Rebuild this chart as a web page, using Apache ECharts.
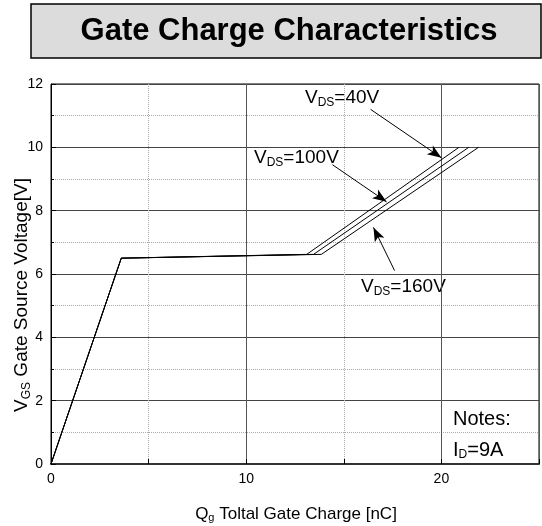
<!DOCTYPE html>
<html><head><meta charset="utf-8">
<script src="https://cdn.jsdelivr.net/npm/echarts@6/dist/echarts.min.js"></script>
<style>html,body{margin:0;padding:0;background:#fff}#c{width:542px;height:526px}</style>
</head><body><div id="c"></div>
<script>
// Data
const seriesNames = ['VDS=40V', 'VDS=100V', 'VDS=160V'];
const qg40  = [0, 3.6, 13.1, 20.9];
const vgs40 = [0, 6.5, 6.62, 10];
const qg100  = [0, 3.6, 13.45, 21.4];
const vgs100 = [0, 6.5, 6.62, 10];
const qg160  = [0, 3.6, 13.85, 21.9];
const vgs160 = [0, 6.5, 6.62, 10];
const xTicks = [0, 10, 20];
const yTicks = [0, 2, 4, 6, 8, 10, 12];

const pairs = (xs, ys) => xs.map((x, i) => [x, ys[i]]);
const F = 'Arial, "Liberation Sans", sans-serif';
const sub = (main, s, rest, fs) => ({
  text: '{a|' + main + '}{b|' + s + '}{a|' + rest + '}',
  rich: {
    a: {fontSize: fs, fontFamily: F, fill: '#000', color: '#000'},
    b: {fontSize: Math.round(fs * 0.62), fontFamily: F, fill: '#000', color: '#000', padding: [Math.round(fs * 0.45), 0, 0, 0]}
  }
});

const chart = echarts.init(document.getElementById('c'));
const lineStyle = {color: '#000', width: 1};
const arrows = [
  [[16.37, 11.2], [20.0, 9.67]],
  [[14.42, 9.45], [17.19, 8.28]],
  [[17.6, 6.11], [16.52, 7.47]]
];
const t40 = sub('V', 'DS', '=40V', 19);
const t100 = sub('V', 'DS', '=100V', 19);
const t160 = sub('V', 'DS', '=160V', 19);
const tID = sub('I', 'D', '=9A', 20);
const yName = sub('V', 'GS', ' Gate Source Voltage[V]', 19);
const xName = sub('Q', 'g', ' Toltal Gate Charge [nC]', 17);

chart.setOption({
  animation: false,
  backgroundColor: '#fff',
  grid: {left: 51, right: 2, top: 84, bottom: 62, show: true, borderColor: '#000', borderWidth: 1},
  xAxis: [{
    type: 'value', min: 0, max: 25, interval: 5,
    axisLine: {lineStyle: {color: '#333', width: 2}},
    axisTick: {inside: true, length: 5, lineStyle: {color: '#000'}},
    axisLabel: {fontSize: 14, fontFamily: F, color: '#000', margin: 8,
      formatter: v => xTicks.indexOf(v) >= 0 ? String(v) : ''},
    splitLine: {show: true, lineStyle: {color: '#aaa', type: [1, 1], width: 1}}
  }, {
    type: 'value', min: 0, max: 25, interval: 10, position: 'bottom',
    axisLine: {show: false}, axisTick: {show: false}, axisLabel: {show: false},
    splitLine: {show: true, lineStyle: {color: '#555', width: 1}}
  }],
  yAxis: {
    type: 'value', min: 0, max: 12, interval: 2,
    axisLine: {show: true, lineStyle: {color: '#000', width: 1}},
    axisTick: {inside: true, length: 5, lineStyle: {color: '#000'}},
    minorTick: {show: true, splitNumber: 2, length: 3, lineStyle: {color: '#000'}},
    axisLabel: {fontSize: 14, fontFamily: F, color: '#000', margin: 8,
      formatter: v => yTicks.indexOf(v) >= 0 ? String(v) : ''},
    splitLine: {show: true, lineStyle: {color: '#444', width: 1}},
    minorSplitLine: {show: true, lineStyle: {color: '#aaa', type: [1, 1], width: 1}}
  },
  series: [
    {name: seriesNames[0], type: 'line', data: pairs(qg40, vgs40), symbol: 'none', lineStyle, z: 5,
      markLine: {silent: true, symbol: ['none', 'arrow'], symbolSize: [8, 14], label: {show: false},
        lineStyle: {color: '#000', width: 1, type: 'solid'},
        data: arrows.map(a => [{coord: a[0]}, {coord: a[1]}])}},
    {name: seriesNames[1], type: 'line', data: pairs(qg100, vgs100), symbol: 'none', lineStyle, z: 5},
    {name: seriesNames[2], type: 'line', data: pairs(qg160, vgs160), symbol: 'none', lineStyle, z: 5}
  ],
  graphic: [
    {type: 'rect', shape: {x: 31, y: 4, width: 510, height: 54}, style: {fill: '#dcdcdc', stroke: '#000', lineWidth: 1.5}},
    {type: 'text', x: 289, y: 31, style: {text: 'Gate Charge Characteristics', font: 'bold 31px ' + F, fill: '#000', textAlign: 'center', textVerticalAlign: 'middle'}},
    {type: 'text', x: 305, y: 98, style: Object.assign({textVerticalAlign: 'middle'}, t40)},
    {type: 'text', x: 254, y: 158, style: Object.assign({textVerticalAlign: 'middle'}, t100)},
    {type: 'text', x: 361, y: 287, style: Object.assign({textVerticalAlign: 'middle'}, t160)},
    {type: 'text', x: 453, y: 419, z: 10, style: {text: 'Notes:', font: '20px ' + F, fill: '#000', textVerticalAlign: 'middle'}},
    {type: 'text', x: 453, y: 450, z: 10, style: Object.assign({textVerticalAlign: 'middle'}, tID)},
    {type: 'text', x: 22, y: 295, rotation: Math.PI / 2, style: Object.assign({textAlign: 'center', textVerticalAlign: 'middle'}, yName)},
    {type: 'text', x: 296, y: 514, style: Object.assign({textAlign: 'center', textVerticalAlign: 'middle'}, xName)}
  ]
});
</script></body></html>
